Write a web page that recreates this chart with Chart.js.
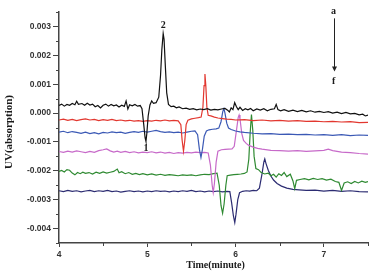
<!DOCTYPE html>
<html>
<head>
<meta charset="utf-8">
<script src="https://cdn.jsdelivr.net/npm/chart.js@4.4.0/dist/chart.umd.min.js"></script>
<style>
  html, body { margin: 0; padding: 0; background: #fff; }
</style>
</head>
<body>
<canvas id="uvChart" width="377" height="278"></canvas>
<script>
// traces a..f, [time (min), UV absorption x 1e-3]
const traceA = [[4.00,0.26],[4.03,0.31],[4.06,0.24],[4.09,0.30],[4.12,0.27],[4.15,0.33],[4.18,0.29],[4.20,0.41],[4.22,0.30],[4.26,0.33],[4.29,0.27],[4.32,0.34],[4.35,0.28],[4.38,0.31],[4.41,0.22],[4.44,0.26],[4.47,0.18],[4.50,0.27],[4.53,0.31],[4.56,0.24],[4.59,0.30],[4.62,0.25],[4.65,0.28],[4.68,0.21],[4.71,0.27],[4.74,0.23],[4.76,0.42],[4.78,0.14],[4.80,0.29],[4.83,0.25],[4.86,0.30],[4.89,0.24],[4.92,0.26],[4.94,0.15],[4.96,-0.40],[4.975,-0.85],[4.985,-0.98],[4.995,-0.70],[5.01,-0.10],[5.03,0.28],[5.05,0.42],[5.07,0.34],[5.10,0.36],[5.13,0.55],[5.15,1.30],[5.165,2.20],[5.18,2.75],[5.19,2.55],[5.205,1.60],[5.22,0.70],[5.24,0.30],[5.27,0.22],[5.30,0.24],[5.33,0.18],[5.36,0.21],[5.40,0.15],[5.44,0.17],[5.48,0.13],[5.52,0.15],[5.56,0.11],[5.60,0.14],[5.64,0.12],[5.68,0.15],[5.72,0.10],[5.76,0.13],[5.80,0.11],[5.84,0.14],[5.88,0.16],[5.91,0.10],[5.93,0.04],[5.95,0.18],[5.97,0.12],[5.99,0.36],[6.01,0.22],[6.03,0.12],[6.05,0.20],[6.08,0.09],[6.11,0.15],[6.14,0.11],[6.17,0.16],[6.20,0.08],[6.24,0.14],[6.28,0.10],[6.32,0.15],[6.36,0.08],[6.40,0.13],[6.44,0.15],[6.46,0.30],[6.48,0.12],[6.51,0.08],[6.55,0.12],[6.60,0.06],[6.65,0.10],[6.70,0.05],[6.75,0.09],[6.80,0.04],[6.85,0.08],[6.90,0.03],[6.95,0.06],[7.00,0.02],[7.05,0.05],[7.10,0.00],[7.15,0.03],[7.20,-0.02],[7.25,0.02],[7.30,-0.03],[7.35,-0.01],[7.40,-0.06],[7.44,-0.04],[7.47,-0.10],[7.50,-0.07]];
const traceB = [[4.00,-0.24],[4.05,-0.21],[4.10,-0.25],[4.15,-0.22],[4.20,-0.26],[4.25,-0.23],[4.30,-0.20],[4.35,-0.24],[4.40,-0.22],[4.45,-0.26],[4.50,-0.23],[4.55,-0.25],[4.60,-0.22],[4.65,-0.26],[4.70,-0.24],[4.75,-0.27],[4.80,-0.25],[4.85,-0.28],[4.90,-0.26],[4.95,-0.29],[5.00,-0.26],[5.05,-0.28],[5.10,-0.25],[5.15,-0.27],[5.20,-0.24],[5.25,-0.27],[5.30,-0.25],[5.35,-0.27],[5.38,-0.40],[5.395,-0.95],[5.41,-1.32],[5.425,-0.95],[5.44,-0.40],[5.46,-0.25],[5.50,-0.20],[5.54,-0.18],[5.58,-0.16],[5.61,-0.14],[5.63,0.20],[5.643,0.95],[5.653,1.35],[5.663,0.95],[5.675,0.20],[5.69,-0.08],[5.72,-0.10],[5.76,-0.14],[5.80,-0.17],[5.85,-0.19],[5.90,-0.21],[5.95,-0.22],[6.00,-0.24],[6.10,-0.23],[6.20,-0.26],[6.30,-0.24],[6.40,-0.27],[6.50,-0.25],[6.60,-0.28],[6.70,-0.26],[6.80,-0.29],[6.90,-0.28],[7.00,-0.30],[7.10,-0.29],[7.20,-0.31],[7.30,-0.30],[7.40,-0.33],[7.50,-0.32]];
const traceC = [[4.00,-0.66],[4.05,-0.63],[4.10,-0.68],[4.15,-0.64],[4.20,-0.67],[4.25,-0.70],[4.30,-0.66],[4.35,-0.71],[4.40,-0.68],[4.45,-0.72],[4.50,-0.67],[4.55,-0.69],[4.60,-0.65],[4.65,-0.68],[4.70,-0.66],[4.75,-0.70],[4.80,-0.67],[4.85,-0.64],[4.90,-0.67],[4.95,-0.63],[5.00,-0.66],[5.05,-0.63],[5.10,-0.60],[5.15,-0.64],[5.20,-0.67],[5.25,-0.65],[5.30,-0.68],[5.35,-0.66],[5.40,-0.69],[5.45,-0.66],[5.50,-0.63],[5.54,-0.62],[5.57,-0.75],[5.59,-1.25],[5.608,-1.54],[5.625,-1.25],[5.645,-0.80],[5.67,-0.62],[5.70,-0.58],[5.74,-0.56],[5.78,-0.55],[5.81,-0.52],[5.835,-0.30],[5.855,0.05],[5.868,0.15],[5.88,0.00],[5.90,-0.35],[5.92,-0.52],[5.95,-0.57],[6.00,-0.62],[6.05,-0.65],[6.10,-0.67],[6.20,-0.70],[6.30,-0.72],[6.40,-0.71],[6.50,-0.74],[6.60,-0.73],[6.70,-0.75],[6.80,-0.74],[6.90,-0.76],[7.00,-0.75],[7.10,-0.77],[7.20,-0.75],[7.30,-0.78],[7.40,-0.76],[7.50,-0.77]];
const traceD = [[4.00,-1.33],[4.05,-1.36],[4.10,-1.32],[4.15,-1.35],[4.20,-1.31],[4.25,-1.34],[4.30,-1.37],[4.35,-1.33],[4.40,-1.36],[4.45,-1.30],[4.50,-1.27],[4.54,-1.24],[4.58,-1.31],[4.62,-1.35],[4.66,-1.32],[4.70,-1.36],[4.75,-1.33],[4.80,-1.37],[4.85,-1.34],[4.90,-1.38],[4.95,-1.35],[5.00,-1.37],[5.05,-1.34],[5.10,-1.38],[5.15,-1.35],[5.20,-1.39],[5.25,-1.36],[5.30,-1.40],[5.35,-1.37],[5.40,-1.39],[5.45,-1.36],[5.50,-1.38],[5.55,-1.35],[5.60,-1.37],[5.65,-1.36],[5.69,-1.38],[5.715,-1.80],[5.735,-2.50],[5.747,-2.75],[5.76,-2.45],[5.78,-1.70],[5.80,-1.32],[5.84,-1.27],[5.88,-1.26],[5.92,-1.25],[5.96,-1.24],[5.985,-1.15],[6.01,-0.60],[6.03,-0.15],[6.04,-0.07],[6.05,-0.20],[6.07,-0.70],[6.09,-0.95],[6.12,-1.05],[6.15,-1.12],[6.20,-1.18],[6.25,-1.22],[6.30,-1.25],[6.40,-1.29],[6.50,-1.30],[6.60,-1.32],[6.70,-1.30],[6.80,-1.33],[6.90,-1.31],[7.00,-1.29],[7.05,-1.25],[7.10,-1.30],[7.20,-1.35],[7.30,-1.37],[7.40,-1.40],[7.50,-1.42]];
const traceE = [[4.00,-2.02],[4.03,-1.99],[4.06,-2.04],[4.09,-1.96],[4.12,-1.98],[4.15,-2.08],[4.18,-2.14],[4.21,-2.06],[4.24,-2.10],[4.27,-2.05],[4.30,-2.09],[4.34,-2.06],[4.38,-2.11],[4.42,-2.05],[4.46,-2.09],[4.50,-2.04],[4.54,-2.08],[4.58,-2.05],[4.62,-2.02],[4.66,-1.94],[4.68,-2.07],[4.71,-2.03],[4.75,-2.10],[4.79,-2.06],[4.83,-2.12],[4.87,-2.09],[4.91,-2.13],[4.95,-2.10],[5.00,-2.14],[5.05,-2.11],[5.10,-2.15],[5.15,-2.12],[5.20,-2.16],[5.25,-2.13],[5.30,-2.15],[5.35,-2.17],[5.40,-2.14],[5.45,-2.16],[5.50,-2.14],[5.55,-2.17],[5.60,-2.14],[5.65,-2.12],[5.70,-2.13],[5.75,-2.10],[5.79,-2.08],[5.815,-2.50],[5.835,-3.20],[5.853,-3.47],[5.87,-3.15],[5.89,-2.50],[5.905,-2.17],[5.94,-2.15],[5.98,-2.13],[6.02,-2.12],[6.06,-2.11],[6.10,-2.09],[6.13,-2.04],[6.15,-1.60],[6.165,-0.70],[6.18,-0.05],[6.195,-0.60],[6.21,-1.50],[6.23,-1.92],[6.26,-1.96],[6.29,-2.06],[6.33,-2.11],[6.37,-2.08],[6.40,-2.17],[6.43,-2.12],[6.46,-2.22],[6.49,-2.10],[6.52,-2.16],[6.55,-2.06],[6.58,-2.20],[6.62,-2.12],[6.65,-2.35],[6.67,-2.62],[6.69,-2.33],[6.73,-2.30],[6.78,-2.27],[6.83,-2.31],[6.88,-2.26],[6.93,-2.30],[6.98,-2.27],[7.03,-2.32],[7.08,-2.29],[7.13,-2.37],[7.17,-2.40],[7.20,-2.68],[7.23,-2.42],[7.27,-2.38],[7.31,-2.44],[7.35,-2.37],[7.39,-2.42],[7.43,-2.36],[7.47,-2.40],[7.50,-2.37]];
const traceF = [[4.00,-2.69],[4.05,-2.72],[4.10,-2.68],[4.15,-2.71],[4.20,-2.69],[4.25,-2.73],[4.30,-2.70],[4.35,-2.68],[4.40,-2.72],[4.45,-2.69],[4.50,-2.71],[4.55,-2.68],[4.60,-2.72],[4.65,-2.70],[4.70,-2.74],[4.75,-2.71],[4.80,-2.69],[4.85,-2.72],[4.90,-2.70],[4.95,-2.73],[5.00,-2.70],[5.05,-2.72],[5.10,-2.69],[5.15,-2.71],[5.20,-2.70],[5.25,-2.73],[5.30,-2.70],[5.35,-2.72],[5.40,-2.69],[5.45,-2.71],[5.50,-2.68],[5.55,-2.72],[5.60,-2.70],[5.65,-2.73],[5.70,-2.70],[5.75,-2.72],[5.80,-2.70],[5.85,-2.73],[5.90,-2.71],[5.935,-2.72],[5.955,-3.10],[5.975,-3.55],[5.991,-3.79],[6.005,-3.50],[6.025,-3.00],[6.045,-2.76],[6.08,-2.71],[6.12,-2.69],[6.16,-2.70],[6.20,-2.68],[6.24,-2.69],[6.27,-2.60],[6.30,-2.10],[6.32,-1.70],[6.331,-1.59],[6.345,-1.75],[6.37,-1.98],[6.40,-2.18],[6.43,-2.32],[6.47,-2.44],[6.52,-2.53],[6.58,-2.60],[6.65,-2.64],[6.72,-2.66],[6.80,-2.68],[6.90,-2.67],[7.00,-2.70],[7.10,-2.68],[7.20,-2.71],[7.30,-2.69],[7.40,-2.72],[7.50,-2.73]];

const traceColors = ["#111111", "#e2372f", "#3b59b5", "#c76ac9", "#2f8a32", "#2c2c72"];

// axis ranges and ticks (y in units of 0.001)
const xRange = [4, 7.5];
const yRange = [-4.5, 3.5];
const xMajorTicks = [4, 5, 6, 7];
const yMajorTicks = [-4, -3, -2, -1, 0, 1, 2, 3];
const xMinorTicks = [4.5, 5.5, 6.5, 7.5];
const yMinorTicks = [-4.5, -3.5, -2.5, -1.5, -0.5, 0.5, 1.5, 2.5, 3.5];

// peak labels and the a -> f arrow, in data coordinates
const notes = [
  { text: "2", x: 5.18, y: 3.02 },
  { text: "1", x: 4.985, y: -1.21 },
  { text: "a", x: 7.11, y: 3.52 },
  { text: "f", x: 7.11, y: 1.10 }
];
const arrow = { x: 7.11, from: 3.28, to: 1.44 };

// minor ticks, axis titles and annotations
const extrasPlugin = {
  id: "extras",
  afterDraw(chart) {
    const { ctx, chartArea, scales: { x, y } } = chart;
    ctx.save();
    ctx.strokeStyle = "#444";
    ctx.lineWidth = 1;
    xMinorTicks.forEach(v => {
      const px = Math.round(x.getPixelForValue(v)) + 0.5;
      ctx.beginPath();
      ctx.moveTo(px, chartArea.bottom);
      ctx.lineTo(px, chartArea.bottom + 3);
      ctx.stroke();
    });
    yMinorTicks.forEach(v => {
      const py = Math.round(y.getPixelForValue(v)) + 0.5;
      ctx.beginPath();
      ctx.moveTo(chartArea.left - 3, py);
      ctx.lineTo(chartArea.left, py);
      ctx.stroke();
    });

    // axis titles
    ctx.fillStyle = "#1a1a1a";
    ctx.textAlign = "center";
    ctx.textBaseline = "middle";
    ctx.font = "bold 10px 'Liberation Serif', 'Times New Roman', serif";
    ctx.fillText("Time(minute)", (chartArea.left + chartArea.right) / 2 + 2, 265);
    ctx.save();
    ctx.translate(9.5, 132);
    ctx.rotate(-Math.PI / 2);
    ctx.font = "bold 11px 'Liberation Serif', 'Times New Roman', serif";
    ctx.fillText("UV(absorption)", 0, 0);
    ctx.restore();

    // annotations
    ctx.font = "bold 10px 'Liberation Serif', 'Times New Roman', serif";
    notes.forEach(n => ctx.fillText(n.text, x.getPixelForValue(n.x), y.getPixelForValue(n.y)));
    const ax = Math.round(x.getPixelForValue(arrow.x)) + 0.5;
    const top = y.getPixelForValue(arrow.from);
    const tip = y.getPixelForValue(arrow.to);
    ctx.strokeStyle = "#222";
    ctx.beginPath();
    ctx.moveTo(ax, top);
    ctx.lineTo(ax, tip - 4);
    ctx.stroke();
    ctx.fillStyle = "#222";
    ctx.beginPath();
    ctx.moveTo(ax - 2.5, tip - 5);
    ctx.lineTo(ax + 2.5, tip - 5);
    ctx.lineTo(ax, tip);
    ctx.closePath();
    ctx.fill();
    ctx.restore();
  }
};

const tickFont = { family: "'Liberation Sans', Arial, sans-serif", size: 8.5, weight: "bold" };

const ctx = document.getElementById("uvChart").getContext("2d");
new Chart(ctx, {
  type: "line",
  data: {
    datasets: [traceA, traceB, traceC, traceD, traceE, traceF].map((trace, i) => ({
      label: "abcdef"[i],
      data: trace.map(([t, v]) => ({ x: t, y: v })),
      borderColor: traceColors[i],
      borderWidth: 1.2,
      pointRadius: 0,
      tension: 0,
      fill: false
    }))
  },
  options: {
    responsive: false,
    animation: false,
    events: [],
    layout: { padding: { left: 0, right: 9, top: 12, bottom: 0 } },
    plugins: {
      legend: { display: false },
      tooltip: { enabled: false }
    },
    scales: {
      x: {
        type: "linear",
        min: xRange[0],
        max: xRange[1],
        afterBuildTicks: scale => { scale.ticks = xMajorTicks.map(v => ({ value: v })); },
        afterFit: scale => { scale.height = 35; },
        ticks: {
          padding: 3,
          color: "#333",
          font: tickFont,
          maxRotation: 0,
          autoSkip: false,
          callback: v => String(v)
        },
        grid: { drawOnChartArea: false, drawTicks: true, tickLength: 4, tickColor: "#444" },
        border: { display: true, color: "#444", width: 1.5 }
      },
      y: {
        type: "linear",
        min: yRange[0],
        max: yRange[1],
        afterBuildTicks: scale => { scale.ticks = yMajorTicks.map(v => ({ value: v })); },
        afterFit: scale => { scale.width = 59; },
        ticks: {
          padding: 2,
          color: "#333",
          font: tickFont,
          autoSkip: false,
          callback: v => (v / 1000).toFixed(3)
        },
        grid: { drawOnChartArea: false, drawTicks: true, tickLength: 6, tickColor: "#444" },
        border: { display: true, color: "#444", width: 1.5 }
      }
    }
  },
  plugins: [extrasPlugin]
});
</script>
</body>
</html>
